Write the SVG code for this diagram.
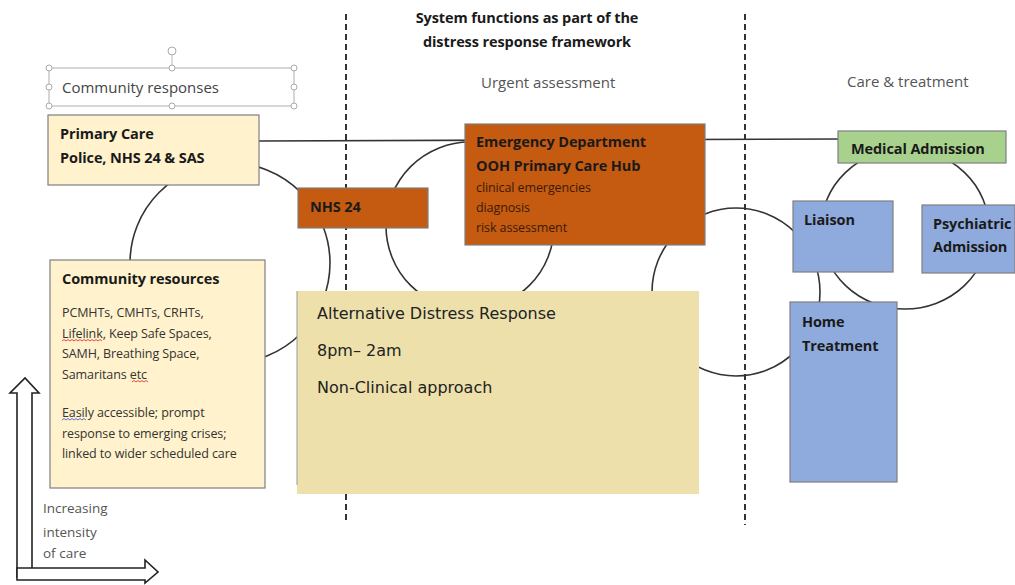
<svg xmlns="http://www.w3.org/2000/svg" width="1015" height="585" viewBox="0 0 1015 585">
<style>
text{font-family:"Open Sans","Liberation Sans",sans-serif;fill:#1a1a1a}
.b{font-weight:bold;font-size:14.5px;letter-spacing:-0.1px}
.s{font-size:12.5px;fill:#333;letter-spacing:-0.1px}
.g{font-size:15px;fill:#555}
.box{stroke:#7f7f7f;stroke-width:1.2}
.conn{fill:none;stroke:#333;stroke-width:1.6}
.dash{stroke:#333;stroke-width:2;stroke-dasharray:6,4}
.h{fill:#fff;stroke:#aaa;stroke-width:1}
.adr{font-family:"DejaVu Sans",sans-serif;font-size:16px;fill:#222}
</style>
<rect width="1015" height="585" fill="#fff"/>
<g id="dividers">
<line class="dash" x1="346" y1="14" x2="346" y2="522"/>
<line class="dash" x1="745" y1="14" x2="745" y2="525"/>
</g>
<g id="connectors">
<line class="conn" x1="258" y1="141" x2="840" y2="139" stroke-width="1.3"/>
<circle class="conn" cx="230" cy="263" r="100"/>
<circle class="conn" cx="470" cy="226" r="84"/>
<circle class="conn" cx="736" cy="292" r="84"/>
<ellipse class="conn" cx="905" cy="229" rx="84" ry="80"/>
</g>
<g id="headings">
<text class="b" x="527" y="23" text-anchor="middle">System functions as part of the</text>
<text class="b" x="527" y="47" text-anchor="middle">distress response framework</text>
<text class="g" x="481" y="88">Urgent assessment</text>
<text class="g" x="847" y="87">Care &amp; treatment</text>
</g>
<g id="community-responses">
<rect x="49" y="68" width="245" height="38" fill="#fff" stroke="#bbb" stroke-width="1.2"/>
<line x1="172" y1="55" x2="172" y2="68" stroke="#bbb"/>
<circle class="h" cx="172" cy="51" r="4"/>
<circle class="h" cx="49" cy="68" r="3"/><circle class="h" cx="172" cy="68" r="3"/><circle class="h" cx="294" cy="68" r="3"/>
<circle class="h" cx="49" cy="87" r="3"/><circle class="h" cx="294" cy="87" r="3"/>
<circle class="h" cx="49" cy="106" r="3"/><circle class="h" cx="172" cy="106" r="3"/><circle class="h" cx="294" cy="106" r="3"/>
<text class="g" x="62" y="93" style="fill:#444">Community responses</text>
</g>
<g id="primary-care">
<rect class="box" x="48" y="115" width="211" height="70" fill="#fff2cc"/>
<text class="b" x="60" y="139">Primary Care</text>
<text class="b" x="60" y="163">Police, NHS 24 &amp; SAS</text>
</g>
<g id="community-resources">
<rect class="box" x="50" y="260" width="215" height="228" fill="#fff2cc"/>
<text class="b" x="62" y="284">Community resources</text>
<text class="s" x="62" y="317">PCMHTs, CMHTs, CRHTs,</text>
<text class="s" x="62" y="338">Lifelink, Keep Safe Spaces,</text>
<text class="s" x="62" y="358">SAMH, Breathing Space,</text>
<text class="s" x="62" y="379">Samaritans etc</text>
<text class="s" x="62" y="417">Easily accessible; prompt</text>
<text class="s" x="62" y="438">response to emerging crises;</text>
<text class="s" x="62" y="458">linked to wider scheduled care</text>
<path d="M62 341 l2 -1.5 l2 1.5 l2 -1.5 l2 1.5 l2 -1.5 l2 1.5 l2 -1.5 l2 1.5 l2 -1.5 l2 1.5 l2 -1.5 l2 1.5 l2 -1.5 l2 1.5 l2 -1.5 l2 1.5 l2 -1.5 l2 1.5 l2 -1.5 l2 1.5" fill="none" stroke="#e02020" stroke-width="0.8"/>
<path d="M132 382 l2 -1.5 l2 1.5 l2 -1.5 l2 1.5 l2 -1.5 l2 1.5 l2 -1.5 l2 1.5" fill="none" stroke="#e02020" stroke-width="0.8"/>
<path d="M62 420 l2 -1.5 l2 1.5 l2 -1.5 l2 1.5 l2 -1.5 l2 1.5 l2 -1.5 l2 1.5 l2 -1.5 l2 1.5 l2 -1.5 l2 1.5" fill="none" stroke="#3050d0" stroke-width="0.8"/>
</g>
<g id="nhs24">
<rect class="box" x="298" y="188" width="130" height="40" fill="#c55a11" stroke="#8a3d0b"/>
<text class="b" x="310" y="212">NHS 24</text>
</g>
<g id="emergency-department">
<rect class="box" x="465" y="124" width="240" height="121" fill="#c55a11" stroke="#8a3d0b"/>
<text class="b" x="476" y="147">Emergency Department</text>
<text class="b" x="476" y="171">OOH Primary Care Hub</text>
<text class="s" x="476" y="192" style="fill:#3a1a05">clinical emergencies</text>
<text class="s" x="476" y="212" style="fill:#3a1a05">diagnosis</text>
<text class="s" x="476" y="232" style="fill:#3a1a05">risk assessment</text>
</g>
<g id="alternative-distress-response">
<rect x="297" y="291" width="402" height="203" fill="#ede0aa"/>
<line x1="297" y1="291" x2="297" y2="485" stroke="#999" stroke-width="1"/>
<text class="adr" x="317" y="319">Alternative Distress Response</text>
<text class="adr" x="317" y="356">8pm– 2am</text>
<text class="adr" x="317" y="393">Non-Clinical approach</text>
</g>
<g id="medical-admission">
<rect class="box" x="838" y="131" width="168" height="32" fill="#a9d18e"/>
<text class="b" x="851" y="154">Medical Admission</text>
</g>
<g id="liaison">
<rect class="box" x="793" y="201" width="100" height="71" fill="#8faadc"/>
<text class="b" x="804" y="225">Liaison</text>
</g>
<g id="psychiatric-admission">
<rect class="box" x="922" y="205" width="93" height="68" fill="#8faadc"/>
<text class="b" x="933" y="229">Psychiatric</text>
<text class="b" x="933" y="252">Admission</text>
</g>
<g id="home-treatment">
<rect class="box" x="790" y="302" width="107" height="180" fill="#8faadc"/>
<text class="b" x="802" y="327">Home</text>
<text class="b" x="802" y="351">Treatment</text>
</g>
<g id="axes">
<path d="M17 578 V393 H10 L25 378 L39 393 H32 V568" fill="#fff" stroke="#222" stroke-width="1.6"/>
<path d="M17 568 H145 V560 L158 572 L145 583 V580 H17 Z" fill="#fff" stroke="#222" stroke-width="1.6"/>
<text x="43" y="513" style="font-size:13.5px;fill:#555">Increasing</text>
<text x="43" y="537" style="font-size:13.5px;fill:#555">intensity</text>
<text x="43" y="558" style="font-size:13.5px;fill:#555">of care</text>
</g>
</svg>
